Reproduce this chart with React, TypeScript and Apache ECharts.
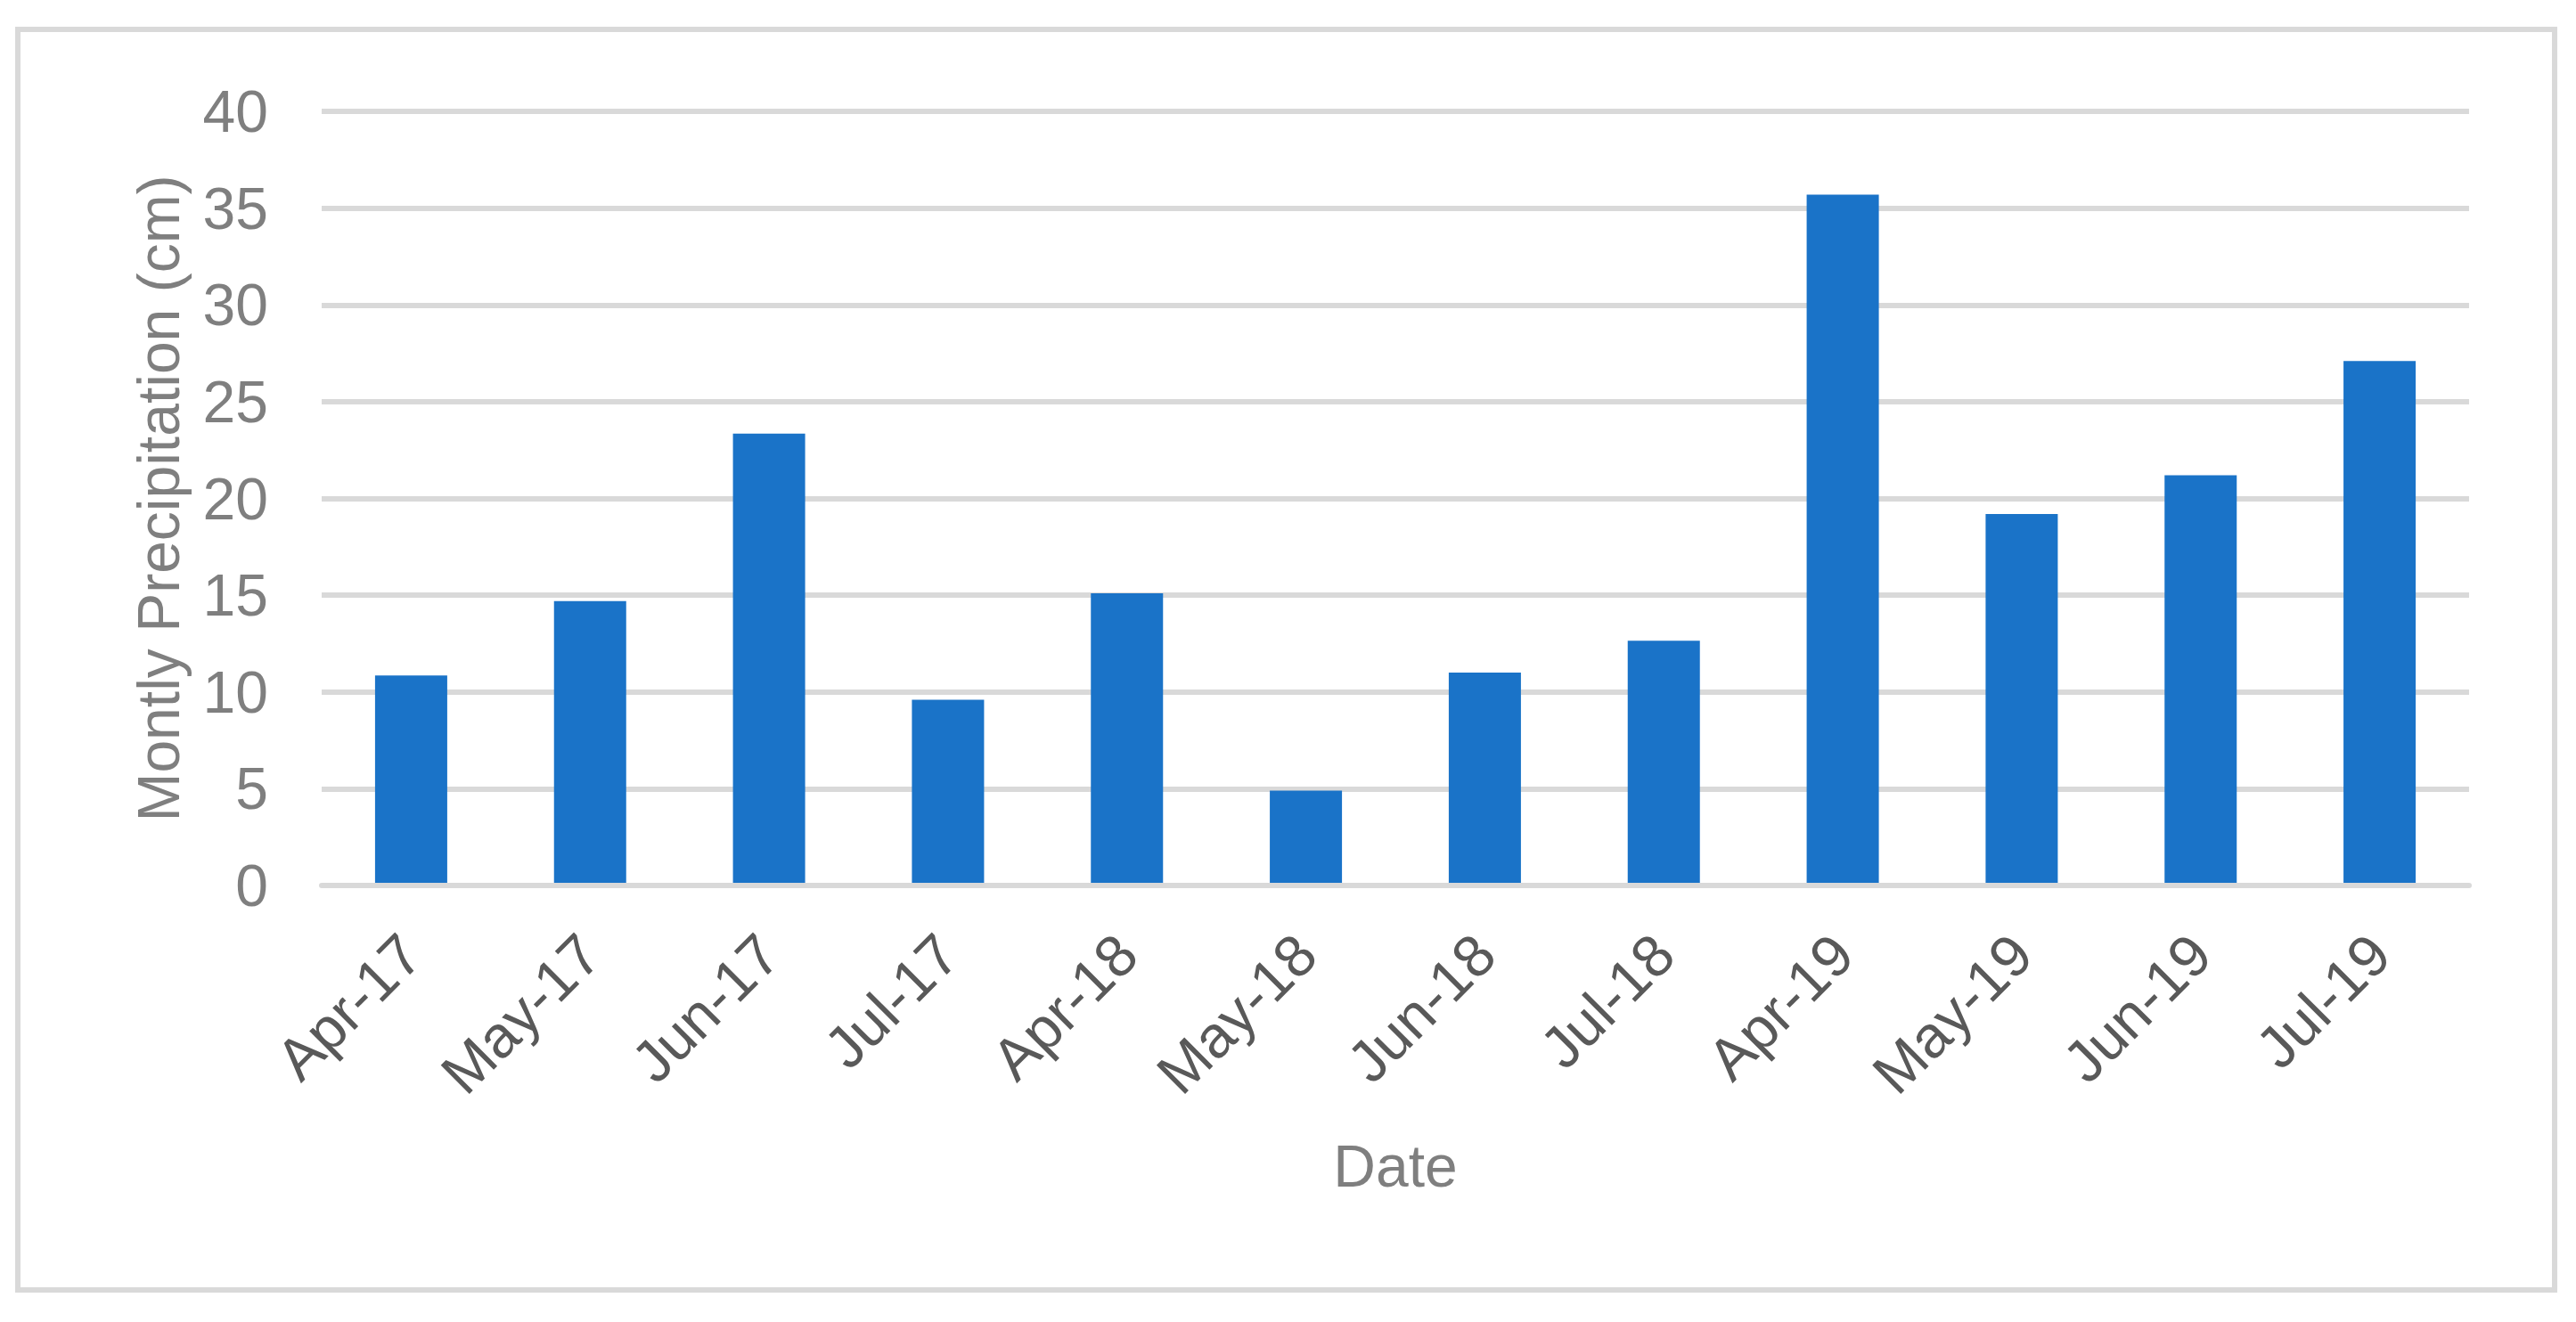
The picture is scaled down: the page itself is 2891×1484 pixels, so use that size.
import React, { useEffect, useRef } from "react";
import * as echarts from "echarts";

const categories = ["Apr-17", "May-17", "Jun-17", "Jul-17", "Apr-18", "May-18", "Jun-18", "Jul-18", "Apr-19", "May-19", "Jun-19", "Jul-19"];
const precipitation = [10.85, 14.7, 23.35, 9.6, 15.1, 4.9, 11.0, 12.65, 35.7, 19.2, 21.2, 27.1];
const yTicks = { min: 0, max: 40, interval: 5 };
const xTitle = "Date";
const yTitle = "Montly Precipitation (cm)";

const W = 2891;
const H = 1484;
const FONT = "'Liberation Sans', Arial, sans-serif";

export default function App() {
  const ref = useRef<HTMLDivElement>(null);
  useEffect(() => {
    if (!ref.current) return;
    const chart = echarts.init(ref.current, null, { renderer: "svg", width: W, height: H });
    chart.setOption({
      animation: false,
      backgroundColor: "#ffffff",
      textStyle: { fontFamily: FONT },
      grid: { left: 361, right: 120, top: 125, bottom: 490, containLabel: false },
      graphic: [
        {
          type: "rect",
          shape: { x: 20, y: 33, width: 2847, height: 1415 },
          style: { fill: "none", stroke: "#d9d9d9", lineWidth: 6 },
          silent: true,
          z: -1,
        },
      ],
      xAxis: {
        type: "category",
        data: categories,
        z: 3,
        axisLine: { show: true, lineStyle: { color: "#d9d9d9", width: 6 } },
        axisTick: { show: false },
        axisLabel: {
          interval: 0,
          rotate: 45,
          margin: 66,
          color: "#595959",
          fontSize: 66,
          fontFamily: FONT,
        },
        name: xTitle,
        nameLocation: "middle",
        nameGap: 282,
        nameTextStyle: { color: "#7f7f7f", fontSize: 66, fontFamily: FONT },
      },
      yAxis: {
        type: "value",
        min: yTicks.min,
        max: yTicks.max,
        interval: yTicks.interval,
        axisLine: { show: false },
        axisTick: { show: false },
        splitLine: { show: true, lineStyle: { color: "#d9d9d9", width: 6 } },
        axisLabel: { margin: 60, color: "#7f7f7f", fontSize: 66, fontFamily: FONT },
        name: yTitle,
        nameLocation: "middle",
        nameRotate: 90,
        nameGap: 150,
        nameTextStyle: { color: "#7f7f7f", fontSize: 66, fontFamily: FONT },
      },
      series: [
        {
          type: "bar",
          data: precipitation,
          barWidth: 81,
          itemStyle: { color: "#1a73c8" },
          z: 2,
        },
      ],
    });
    return () => chart.dispose();
  }, []);
  return (
    <div
      ref={ref}
      style={{ position: "fixed", left: 0, top: 0, width: W, height: H, background: "#ffffff" }}
    />
  );
}
